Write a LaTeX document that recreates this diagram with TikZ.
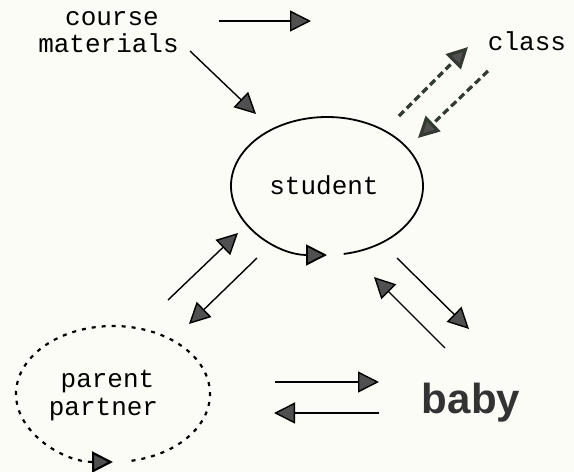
\documentclass[tikz,border=0pt]{standalone}
\usepackage{fontspec}
\setmonofont{Liberation Mono}
\setsansfont{Liberation Sans}
\usetikzlibrary{arrows.meta}
\definecolor{bgcol}{RGB}{252,252,246}
\definecolor{headgray}{RGB}{80,80,80}
\definecolor{dashcol}{RGB}{50,58,50}
\begin{document}
\begin{tikzpicture}[x=1pt,y=-1pt,
  lbl/.style={font=\ttfamily\fontsize{26}{28}\selectfont, inner sep=0pt, anchor=base},
  tip/.style={-{Triangle[length=21pt,width=21pt,fill=headgray]}},
  conn/.style={tip, line width=1.4pt, draw=black},
  dconn/.style={-{Triangle[length=21pt,width=21pt,fill=headgray]}, line width=3.2pt, draw=dashcol, dash pattern=on 7pt off 4pt},
  ring/.style={line width=1.8pt, draw=black},
  dring/.style={line width=2.2pt, draw=black, dash pattern=on 4pt off 6pt}]
\useasboundingbox (0,0) rectangle (574,472);
\fill[bgcol] (0,0) rectangle (574,472);

% texts
\node[lbl] (course) at (112,25) {course};
\node[lbl] (materials) at (108.5,52) {materials};
\node[lbl] (class) at (527,50) {class};
\node[lbl] (student) at (324,194) {student};
\node[lbl] (parent) at (107.5,387) {parent};
\node[lbl] (partner) at (103.5,415) {partner};
\node[font=\sffamily\bfseries\fontsize{42}{44}\selectfont, text=black!80, inner sep=0pt, anchor=base] (baby) at (471,413) {baby};

% ellipse outlines with their circular arrows
\coordinate (sc) at (327,186);
\coordinate (pc) at (113,394);
\draw[ring, tip] ([shift={(80:96 and 69)}]sc) arc[start angle=80, end angle=-270, x radius=96, y radius=69];
\draw[dring, tip] ([shift={(79:97 and 68)}]pc) arc[start angle=79, end angle=-270, x radius=97, y radius=68];

% connector end points
\coordinate (a1s) at (219,21);  \coordinate (a1e) at (311,21);
\coordinate (a2s) at (190,51);  \coordinate (a2e) at (256,114);
\coordinate (d1s) at (399,116); \coordinate (d1e) at (468,47);
\coordinate (d2s) at (488,71);  \coordinate (d2e) at (418,138);
\coordinate (p1s) at (168,300); \coordinate (p1e) at (238,233);
\coordinate (p2s) at (257,258); \coordinate (p2e) at (189,324);
\coordinate (b1s) at (397,258); \coordinate (b1e) at (469,329);
\coordinate (b2s) at (445,348); \coordinate (b2e) at (374,277);
\coordinate (h1s) at (275,382); \coordinate (h1e) at (379,382);
\coordinate (h2s) at (379,413); \coordinate (h2e) at (274,413);

\draw[conn] (a1s) -- (a1e);
\draw[conn] (a2s) -- (a2e);
\draw[dconn] (d1s) -- (d1e);
\draw[dconn] (d2s) -- (d2e);
\draw[conn] (p1s) -- (p1e);
\draw[conn] (p2s) -- (p2e);
\draw[conn] (b1s) -- (b1e);
\draw[conn] (b2s) -- (b2e);
\draw[conn] (h1s) -- (h1e);
\draw[conn] (h2s) -- (h2e);
\end{tikzpicture}
\end{document}
